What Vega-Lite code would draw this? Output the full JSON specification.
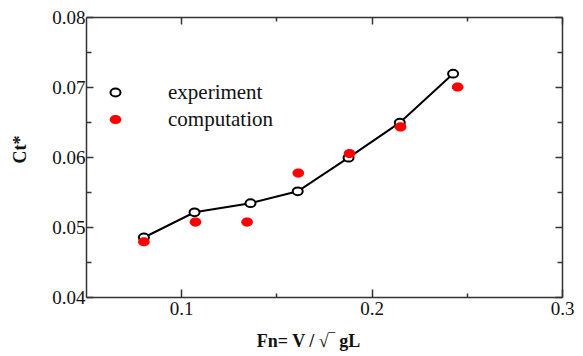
{
  "$schema": "https://vega.github.io/schema/vega-lite/v6.json",
  "width": 476,
  "height": 280,
  "autosize": {"type": "none"},
  "padding": {"left": 86, "top": 17, "right": 21, "bottom": 59},
  "config": {
    "view": {"stroke": null},
    "font": "Liberation Serif",
    "axis": {
      "grid": false,
      "domainColor": "#333",
      "domainWidth": 1.5,
      "tickColor": "#333",
      "tickWidth": 1.5,
      "labelFont": "Liberation Serif",
      "labelFontSize": 19,
      "labelColor": "#111",
      "labelFlush": false,
      "labelOverlap": false,
      "titleFont": "Liberation Serif",
      "titleFontWeight": "bold",
      "titleFontSize": 18,
      "titleColor": "#111"
    },
    "legend": {
      "orient": "none",
      "legendX": 19,
      "legendY": 65,
      "padding": 0,
      "labelFont": "Liberation Serif",
      "labelFontSize": 21,
      "labelColor": "#111",
      "labelOffset": 42,
      "rowPadding": 5,
      "symbolStrokeWidth": 2
    }
  },
  "data": {
    "values": [
      {"Fn": 0.0804, "Ct": 0.0485, "series": "experiment"},
      {"Fn": 0.1070, "Ct": 0.0521, "series": "experiment"},
      {"Fn": 0.1364, "Ct": 0.0534, "series": "experiment"},
      {"Fn": 0.1612, "Ct": 0.0551, "series": "experiment"},
      {"Fn": 0.1879, "Ct": 0.0599, "series": "experiment"},
      {"Fn": 0.2148, "Ct": 0.0649, "series": "experiment"},
      {"Fn": 0.2428, "Ct": 0.0719, "series": "experiment"},
      {"Fn": 0.0804, "Ct": 0.0479, "series": "computation"},
      {"Fn": 0.1075, "Ct": 0.0507, "series": "computation"},
      {"Fn": 0.1346, "Ct": 0.0507, "series": "computation"},
      {"Fn": 0.1615, "Ct": 0.0577, "series": "computation"},
      {"Fn": 0.1884, "Ct": 0.0605, "series": "computation"},
      {"Fn": 0.2152, "Ct": 0.0643, "series": "computation"},
      {"Fn": 0.2452, "Ct": 0.0700, "series": "computation"}
    ]
  },
  "layer": [
    {
      "encoding": {
        "x": {
          "field": "Fn",
          "type": "quantitative",
          "scale": {"domain": [0.05, 0.3], "nice": false, "zero": false},
          "axis": {
            "orient": "bottom",
            "values": [0.1, 0.15, 0.2, 0.25, 0.3],
            "labelExpr": "round(datum.value*100)%10==0 ? format(datum.value,'.1f') : ''",
            "tickSize": {"condition": {"test": "round(datum.value*100)%10==0", "value": -8}, "value": -4},
            "labelPadding": 10,
            "title": "Fn=  V / √‾ gL",
            "titlePadding": 10,
            "titleX": 222
          }
        },
        "y": {
          "field": "Ct",
          "type": "quantitative",
          "scale": {"domain": [0.04, 0.08], "nice": false, "zero": false},
          "axis": {
            "orient": "left",
            "values": [0.04, 0.045, 0.05, 0.055, 0.06, 0.065, 0.07, 0.075, 0.08],
            "labelExpr": "round(datum.value*1000)%10==0 ? format(datum.value,'.2f') : ''",
            "tickSize": {"condition": {"test": "round(datum.value*1000)%10==0", "value": -7}, "value": -5},
            "labelPadding": 8,
            "title": "Ct*",
            "titlePadding": 22,
            "titleY": 132
          }
        }
      },
      "layer": [
        {
          "transform": [{"filter": "datum.series == 'experiment'"}],
          "mark": {"type": "line", "color": "black", "strokeWidth": 2}
        },
        {
          "mark": {"type": "point", "filled": true, "strokeWidth": 2, "opacity": 1},
          "encoding": {
            "shape": {
              "field": "series",
              "type": "nominal",
              "scale": {
                "domain": ["experiment", "computation"],
                "range": ["M-1,0A1,0.78 0 1,0 1,0A1,0.78 0 1,0 -1,0Z", "M-1,0A1,0.78 0 1,0 1,0A1,0.78 0 1,0 -1,0Z"]
              },
              "legend": {"title": null}
            },
            "fill": {
              "field": "series",
              "type": "nominal",
              "scale": {"domain": ["experiment", "computation"], "range": ["white", "#ff0000"]},
              "legend": {"title": null}
            },
            "stroke": {
              "field": "series",
              "type": "nominal",
              "scale": {"domain": ["experiment", "computation"], "range": ["black", "transparent"]},
              "legend": {"title": null}
            },
            "size": {
              "field": "series",
              "type": "nominal",
              "scale": {"domain": ["experiment", "computation"], "range": [100, 136]},
              "legend": {"title": null}
            }
          }
        }
      ]
    },
    {
      "mark": {"type": "point", "opacity": 0},
      "encoding": {
        "x": {
          "field": "Fn",
          "type": "quantitative",
          "scale": {"domain": [0.05, 0.3], "nice": false, "zero": false},
          "axis": {
            "orient": "top",
            "values": [0.1, 0.15, 0.2, 0.25, 0.3],
            "labels": false,
            "title": null,
            "tickSize": {"condition": {"test": "round(datum.value*100)%10==0", "value": -7}, "value": -4}
          }
        },
        "y": {
          "field": "Ct",
          "type": "quantitative",
          "scale": {"domain": [0.04, 0.08], "nice": false, "zero": false},
          "axis": {
            "orient": "right",
            "values": [0.04, 0.045, 0.05, 0.055, 0.06, 0.065, 0.07, 0.075, 0.08],
            "labels": false,
            "title": null,
            "tickSize": {"condition": {"test": "round(datum.value*1000)%10==0", "value": -7}, "value": -5}
          }
        }
      }
    }
  ],
  "resolve": {"scale": {"x": "independent", "y": "independent"}}
}
